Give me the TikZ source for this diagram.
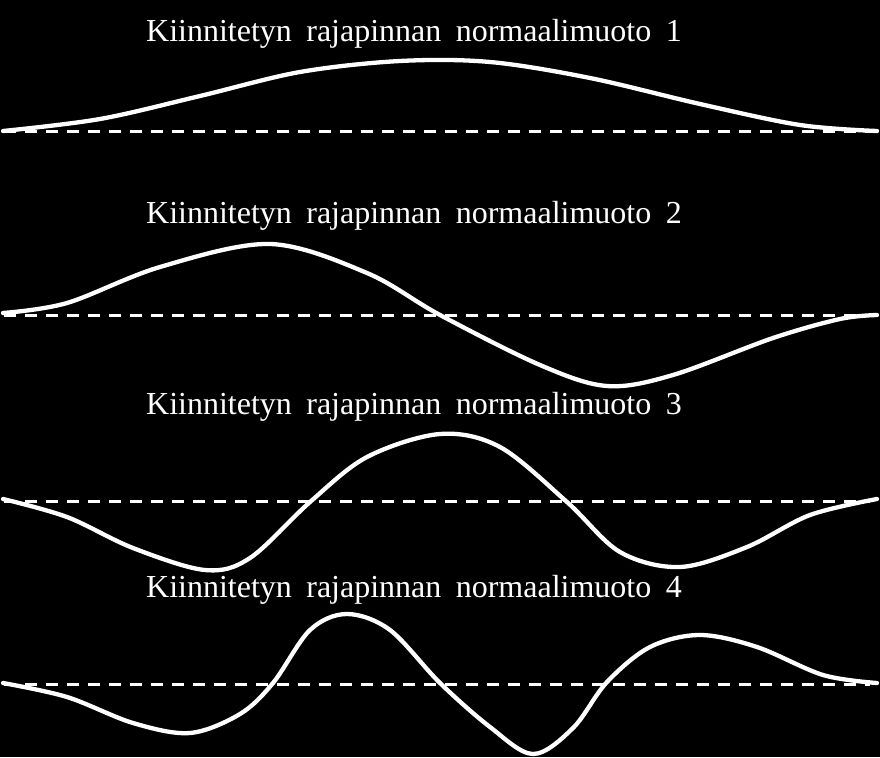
\documentclass[tikz,border=0pt]{standalone}
\usepackage{fontspec}
\setmainfont{Liberation Serif}
\newcommand{\modecapfont}{\fontsize{32}{36}\selectfont\spaceskip=0.45em plus 0em minus 0em\relax}
\begin{document}
\begin{tikzpicture}[x=1pt,y=-1pt,
  modeline/.style={white,line width=4.3pt,line cap=round,line join=round},
  restline/.style={white,line width=3pt,dash pattern=on 11.7pt off 9.3pt},
  caption/.style={text=white,anchor=base west,inner sep=0pt,font=\modecapfont}]
\fill[black] (0,0) rectangle (880,757);
\useasboundingbox (0,0) rectangle (880,757);

% captions
\node[caption] (t1) at (146,42) {Kiinnitetyn rajapinnan normaalimuoto 1};
\node[caption] (t2) at (146,223) {Kiinnitetyn rajapinnan normaalimuoto 2};
\node[caption] (t3) at (146,414) {Kiinnitetyn rajapinnan normaalimuoto 3};
\node[caption] (t4) at (146,597) {Kiinnitetyn rajapinnan normaalimuoto 4};

% dashed rest lines
\draw[restline] (4,131) -- (870,131);
\draw[restline] (4,315) -- (870,315);
\draw[restline] (4,501) -- (870,501);
\draw[restline] (4,684) -- (870,684);

% mode 1
\draw[modeline] plot[smooth,tension=0.55] coordinates {
 (3,131) (100,119) (200,96) (300,72) (400,61) (490,62) (590,78) (700,104)
 (800,125) (877,131)};
% mode 2
\draw[modeline] plot[smooth,tension=0.55] coordinates {
 (3,313) (67,303) (160,267) (270,244) (367,273) (440,315) (540,365) (607,386)
 (673,375) (773,338) (840,319) (877,315)};
% mode 3
\draw[modeline] plot[smooth,tension=0.55] coordinates {
 (3,499) (67,517) (133,548) (205,570) (250,558) (310,502) (367,457) (440,434)
 (500,447) (567,502) (620,552) (680,567) (747,547) (810,515) (877,499)};
% mode 4
\draw[modeline] plot[smooth,tension=0.55] coordinates {
 (3,683) (67,697) (133,723) (190,733) (240,714) (273,683) (310,630) (347,614)
 (390,630) (440,683) (490,727) (533,754) (573,728) (607,682) (650,647) (700,635)
 (757,647) (823,675) (877,683)};
\end{tikzpicture}
\end{document}
